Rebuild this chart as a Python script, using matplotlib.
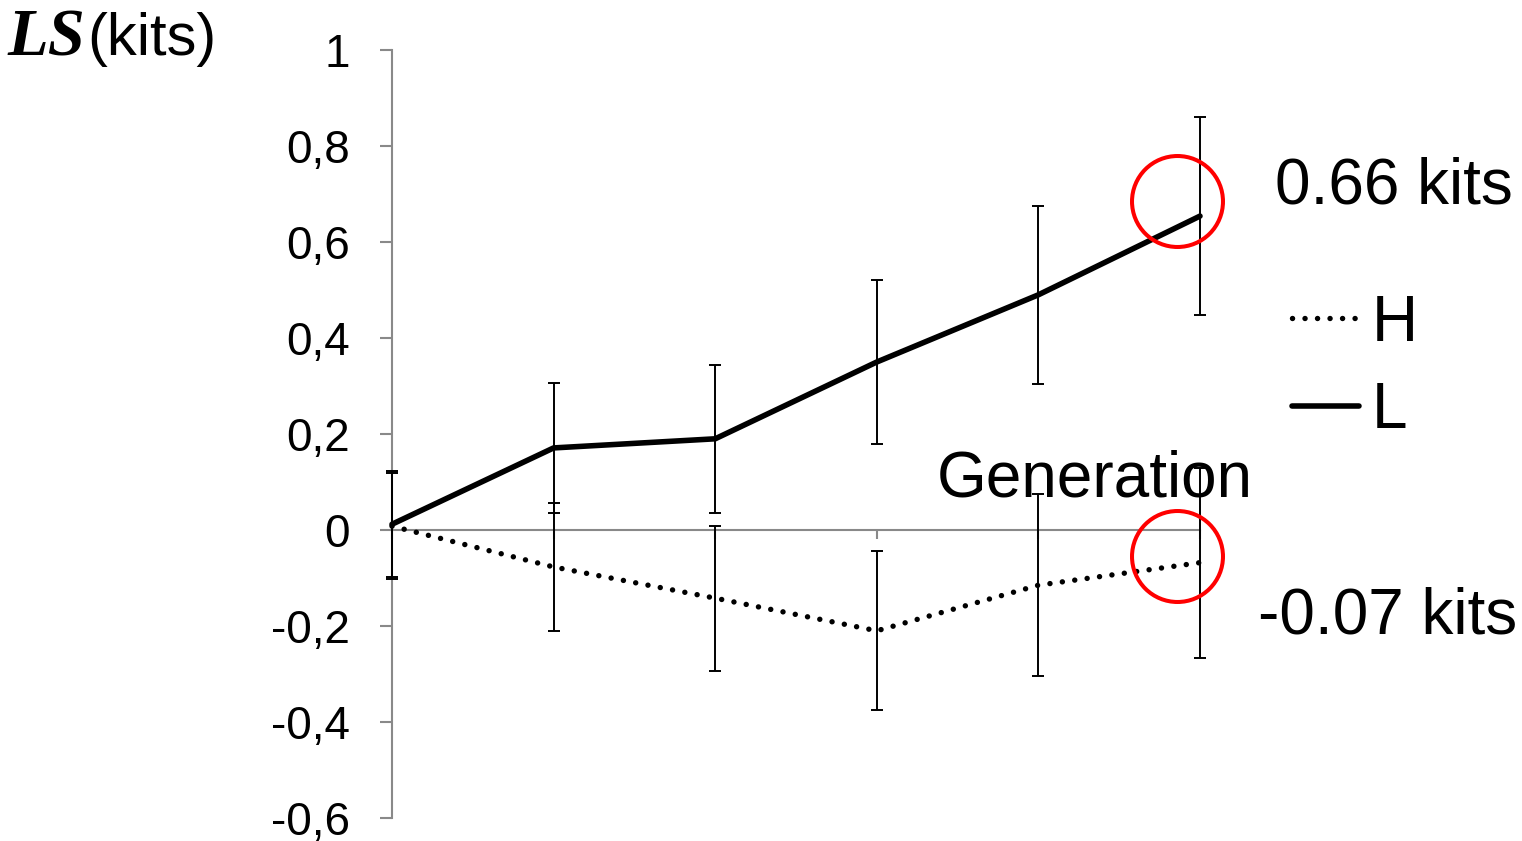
import matplotlib
matplotlib.use('Agg')
import matplotlib.pyplot as plt

plt.rcParams['font.family'] = ['Liberation Sans', 'DejaVu Sans']

# data
generations = [0, 1, 2, 3, 4, 5]
ls_low = [0.012, 0.171, 0.19, 0.35, 0.49, 0.654]
ls_low_err = [0.11, 0.135, 0.154, 0.17, 0.185, 0.206]
ls_high = [0.008, -0.077, -0.142, -0.21, -0.115, -0.068]
ls_high_err = [0.11, 0.133, 0.151, 0.166, 0.19, 0.198]

y_ticks = [-0.6, -0.4, -0.2, 0, 0.2, 0.4, 0.6, 0.8, 1]
y_tick_labels = ['-0,6', '-0,4', '-0,2', '0', '0,2', '0,4', '0,6', '0,8', '1']

# highlighted end points
circle_x = [4.86, 4.86]
circle_y = [0.685, -0.054]
end_labels = ['0.66 kits', '-0.07 kits']

gray = '#898989'

fig = plt.figure(figsize=(15.22, 8.41), dpi=100)
ax = fig.add_axes([392 / 1522, 1 - 818 / 841, (1200 - 392) / 1522, (818 - 50) / 841])

# series lines
line_h, = ax.plot(generations, ls_high, color='black', lw=3.9,
                  ls=(0, (0.01, 2.3)), dash_capstyle='round', clip_on=False,
                  label='H', zorder=3)
line_l, = ax.plot(generations, ls_low, color='black', lw=4.0,
                  solid_capstyle='round', clip_on=False, label='L', zorder=3)

# error bars
for vals, errs in [(ls_high, ls_high_err), (ls_low, ls_low_err)]:
    eb = ax.errorbar(generations, vals, yerr=errs, fmt='none', ecolor='black',
                     elinewidth=1.4, capsize=4.3, capthick=1.4, zorder=3.5)
    for part in eb.lines[1] + eb.lines[2]:
        part.set_clip_on(False)

# red circles
ax.plot(circle_x, circle_y, 'o', ls='none', ms=65.5, mfc='none', mec='red',
        mew=2.9, clip_on=False, zorder=4)

ax.text(5.464, 0.681, end_labels[0], fontsize=46, va='baseline', ha='left')
ax.text(5.359, -0.215, end_labels[1], fontsize=46, va='baseline', ha='left')
ax.text(3.372, 0.069, 'Generation', fontsize=46, va='baseline', ha='left')

# axes
ax.set_xlim(0, 5)
ax.set_ylim(-0.6, 1)
ax.set_yticks(y_ticks, labels=y_tick_labels)
ax.set_xticks(generations, labels=[])
ax.tick_params(axis='y', length=8.6, width=1.5, color=gray, pad=21.6, labelsize=33)
ax.tick_params(axis='x', length=6.5, width=1.5, color=gray, direction='out')
for side in ['top', 'right']:
    ax.spines[side].set_visible(False)
ax.spines['left'].set_color(gray)
ax.spines['left'].set_linewidth(1.5)
ax.spines['bottom'].set_color(gray)
ax.spines['bottom'].set_linewidth(1.5)
ax.spines['bottom'].set_position(('data', 0))
ax.patch.set_visible(False)

leg = ax.legend(handles=[line_h, line_l], loc='upper left',
                bbox_to_anchor=(5.57, 0.492), bbox_transform=ax.transData,
                frameon=False, fontsize=46, handlelength=1.05, handletextpad=0.2,
                labelspacing=0.43, borderpad=0, borderaxespad=0)

# y label
fig.text(85 / 1522, 1 - 55 / 841, 'LS', family='Liberation Serif', weight='bold',
         style='italic', fontsize=48, ha='right', va='baseline')
fig.text(87 / 1522, 1 - 55 / 841, '(kits)', fontsize=43, ha='left', va='baseline')

fig.savefig('out.png', dpi=100)
